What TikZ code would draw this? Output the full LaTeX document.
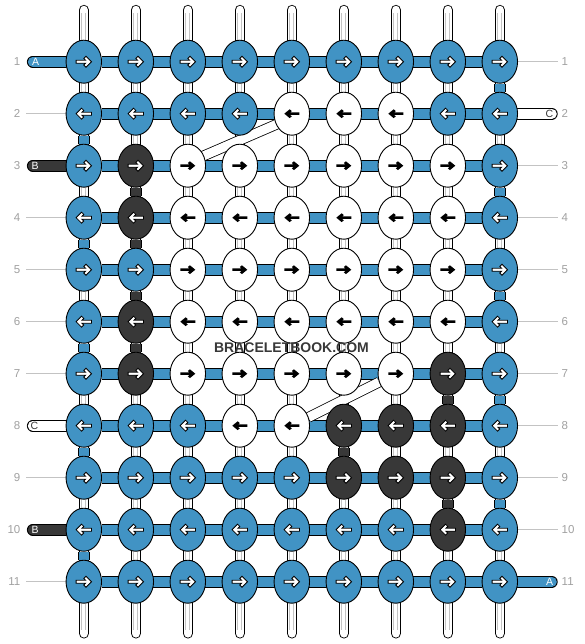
\documentclass[tikz,border=0pt]{standalone}
\usepackage{fontspec}
\setmainfont{Liberation Sans}
\usetikzlibrary{calc,shapes.geometric}
\tikzset{>=latex}
\definecolor{knotblue}{RGB}{65,147,196}
\definecolor{knotdark}{RGB}{56,56,56}
\definecolor{rowgray}{RGB}{160,160,160}
\definecolor{threadgray}{RGB}{195,195,195}
\pgfdeclarelayer{back}
\pgfsetlayers{back,main}
\tikzset{
  knot/.style={ellipse, draw=black, line width=0.9pt, minimum width=35.5pt, minimum height=43pt, inner sep=0pt},
  knot b/.style={knot, fill=knotblue},
  knot d/.style={knot, fill=knotdark},
  knot w/.style={knot, fill=white},
  glyph b/.style={fill=white, draw=black, line width=0.8pt, scale=1.1},
  glyph d/.style={glyph b},
  glyph w/.style={fill=black, xscale=1.07, yscale=0.88},
  warp/.style={double=white, double distance=8.5pt, line width=0.9pt, line cap=round},
  warpcore/.style={double=white, double distance=3pt, line width=0.9pt, draw=threadgray},
  weft/.style={double=#1, double distance=10pt, line width=0.9pt},
  tail/.style={weft=#1, line cap=round},
  cross/.style={double=white, double distance=9pt, line width=0.8pt},
  guide/.style={draw=threadgray, line width=0.9pt},
  rowno/.style={text=rowgray, font=\fontsize{11.5}{12}\selectfont, inner sep=0pt},
  tag/.style={font=\fontsize{10.5}{11}\selectfont, inner sep=0pt},
}

\begin{document}
\begin{tikzpicture}[x=1pt, y=1pt]
  \useasboundingbox (0,0) rectangle (584,-644);
  % knots and their arrows
  \foreach \r/\row in {1/{b,b,b,b,b,b,b,b,b}, 2/{b,b,b,b,w,w,w,b,b}, 3/{b,d,w,w,w,w,w,w,b},
      4/{b,d,w,w,w,w,w,w,b}, 5/{b,b,w,w,w,w,w,w,b}, 6/{b,d,w,w,w,w,w,w,b},
      7/{b,d,w,w,w,w,w,d,b}, 8/{b,b,b,w,w,d,d,d,b}, 9/{b,b,b,b,b,d,d,d,b},
      10/{b,b,b,b,b,b,b,d,b}, 11/{b,b,b,b,b,b,b,b,b}}{
    \pgfmathsetmacro{\dir}{1-2*mod(\r+1,2)}
    \foreach \k [count=\c] in \row {
      \node[knot \k] (k\r-\c) at ({83.8+52*(\c-1)}, {-61.7-52*(\r-1)}) {};
      \path[shift={(k\r-\c)}, xscale=\dir, glyph \k] (-7,1.4) -- (1.6,1.4) -- (0,3) -- (2,5) -- (7,0)
        -- (2,-5) -- (0,-3) -- (1.6,-1.4) -- (-7,-1.4) -- cycle;
    }
    \coordinate (w\r) at ($(k\r-1)+(-51,0)$);
    \coordinate (e\r) at ($(k\r-9)+(52,0)$);
    \node[rowno, anchor=east] (ln\r) at ($(k\r-1)+(-63.3,0)$) {\r};
    \node[rowno, anchor=west] (rn\r) at ($(k\r-9)+(61.7,0)$) {\r};
  }

  % thread letters
  \node[tag, text=white, anchor=west] (tA) at ($(w1)+(-1,0)$) {A};
  \node[tag, text=white, anchor=west] (tB) at ($(w3)+(-1.5,0)$) {B};
  \node[tag, text=knotdark, anchor=west] (tC) at ($(w8)+(-2.5,0)$) {C};
  \node[tag, text=white, anchor=west] (tB2) at ($(w10)+(-1.5,0)$) {B};
  \node[tag, text=knotdark, anchor=east] (tC2) at ($(e2)+(1.5,0)$) {C};
  \node[tag, text=white, anchor=east] (tA2) at ($(e11)+(1.5,0)$) {A};

  \node[font=\bfseries\fontsize{14}{14}\selectfont, text=knotdark, inner sep=1pt] (brand) at (291.5,-348) {BRACELETBOOK.COM};

  \begin{pgfonlayer}{back}
    % warp threads
    \foreach \c in {1,...,9}{
      \coordinate (top\c) at ($(k1-\c)+(0,51.7)$);
      \coordinate (bot\c) at ($(k11-\c)+(0,-51.7)$);
      \draw[warp] (top\c) -- (bot\c);
      \draw[warpcore] ($(top\c)+(0,-3)$) -- ($(bot\c)+(0,3)$);
    }
    % working threads
    \foreach \r in {1,...,11}
      \draw[weft=knotblue] (k\r-1) -- (k\r-9);
    \foreach \c/\r/\col [evaluate=\r as \s using int(\r+1)] in {1/2/knotblue, 1/4/knotblue, 1/6/knotblue,
        1/8/knotblue, 1/10/knotblue, 9/1/knotblue, 9/3/knotblue, 9/5/knotblue, 9/7/knotblue, 9/9/knotblue,
        2/3/knotdark, 2/4/knotdark, 2/5/knotdark, 2/6/knotdark, 6/8/knotdark, 8/7/knotdark, 8/9/knotdark}
      \draw[weft=\col] (k\r-\c) -- (k\s-\c);
    \draw[cross] ([yshift=3pt]k3-3.center) -- ([yshift=-4pt]k2-5.center);
    \draw[cross] (k8-5) -- (k7-7);
    % loose ends
    \foreach \r in {2,4,5,6,7,9,11}
      \draw[guide] ([xshift=-6.5pt]w\r) -- (k\r-1);
    \foreach \r in {1,3,4,5,6,7,8,9,10}
      \draw[guide] (k\r-9) -- ([xshift=6.5pt]e\r);
    \draw[tail=knotblue] (w1) -- (k1-1);
    \draw[tail=knotdark] (w3) -- (k3-1);
    \draw[tail=white] (w8) -- (k8-1);
    \draw[tail=knotdark] (w10) -- (k10-1);
    \draw[tail=white] (k2-9) -- (e2);
    \draw[tail=knotblue] (k11-9) -- (e11);
  \end{pgfonlayer}
\end{tikzpicture}
\end{document}
